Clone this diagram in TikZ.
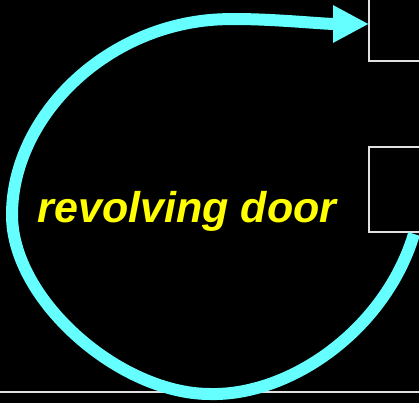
\documentclass[tikz,border=0pt]{standalone}
\usepackage{fontspec}
\setmainfont{Liberation Sans}
\usetikzlibrary{arrows.meta}
\definecolor{doorcyan}{RGB}{102,255,255}
\definecolor{wallgray}{RGB}{225,225,225}
\definecolor{labelyellow}{RGB}{255,255,0}
\tikzset{
  wall/.style={draw=wallgray, line width=2pt},
  flow/.style={draw=doorcyan, line width=12pt, -{Triangle[length=36pt,width=35pt]}},
  label/.style={text=labelyellow, font=\fontsize{43}{50}\selectfont\bfseries\itshape, inner sep=0pt, anchor=base}
}
\begin{document}
\begin{tikzpicture}[x=1pt,y=-1pt]
\fill[black] (0,0) rectangle (419,403);
\useasboundingbox (0,0) rectangle (419,403);
% walls
\draw[wall] (369,0) -- (369,61) -- (419,61);
\draw[wall] (419,147) -- (369,147) -- (369,232) -- (419,232);
\draw[wall] (0,392) -- (419,392);
% label
\node[label] (lbl) at (187,222) {revolving door};
% revolving path
\coordinate (s) at (414,234);
\coordinate (b) at (210,394);
\coordinate (l) at (12,215);
\coordinate (t) at (210,20);
\coordinate (e) at (369,24);
\draw[flow] (s) .. controls (385,330) and (290,396) .. (b)
  .. controls (120,394) and (12,300) .. (l)
  .. controls (12,120) and (100,30) .. (t)
  .. controls (250,16.4) and (320,24) .. (e);
\end{tikzpicture}
\end{document}
